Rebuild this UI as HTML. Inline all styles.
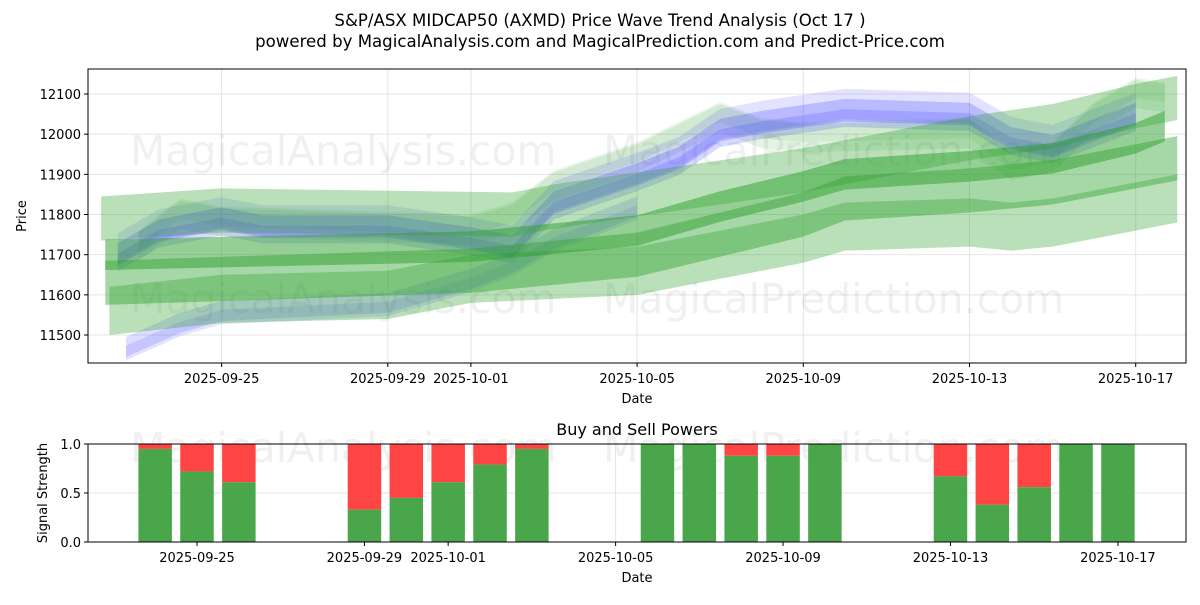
<!DOCTYPE html>
<html><head><meta charset="utf-8"><style>
body{margin:0;background:#fff;}
svg text{font-family:"DejaVu Sans","Liberation Sans",sans-serif;}
</style></head><body>
<svg id="c" width="1200" height="600" xmlns="http://www.w3.org/2000/svg"></svg>
<script>
// ---- data ----
const xTickDays = [0, 4, 6, 10, 14, 18, 22];
const xTickLabels = ["2025-09-25","2025-09-29","2025-10-01","2025-10-05","2025-10-09","2025-10-13","2025-10-17"];
const yTicks = [11500,11600,11700,11800,11900,12000,12100];
const powerDays = [-1,0,1,4,5,6,7,8,11,12,13,14,15,18,19,20,21,22];
const buyPower = [0.95,0.72,0.61,0.33,0.45,0.61,0.79,0.95,1,1,0.88,0.88,1,0.67,0.38,0.56,1,1];
// green bands: days, centers
const gA_days=[-2.8,6,10,12,14,15,18,20,22,22.7];
const gA_c=[11700,11720,11760,11820,11870,11900,11920,11940,11990,12020];
const gB_days=[-2.8,6,10,12,14,15,18,20,22,23];
const gB_c=[11630,11660,11700,11750,11800,11840,11860,11880,11920,11940];
const gC_days=[-2.9,0,7,8,10,14,18,20,22,23];
const gC_c=[11790,11810,11800,11820,11850,11910,11990,12020,12070,12090];
const gD_days=[-2.7,0,4,6,8,10,12,14,15,18,19,20,22,23];
const gD_c=[11560,11590,11600,11640,11650,11660,11700,11740,11770,11780,11770,11780,11820,11840];
const gE_days=[-2,-1,0,6,7,8,10,12,13,14,18,19,20,21,22,22.7];
const gE_c=[11720,11800,11780,11760,11790,11870,11940,12040,12000,11990,12000,11920,11940,12040,12100,12090];
// blue bands
const b1_days=[-2.5,-1.5,0,1,4,6,7,8,10,11,12,13,15,18,19,20,22];
const b1_c=[11700,11760,11790,11770,11770,11740,11720,11830,11900,11940,12010,12030,12060,12050,11990,11970,12050];
const b2_days=[-2.3,-1,0,4,6,7,8,10];
const b2_c=[11470,11530,11560,11580,11640,11680,11740,11820];
// ---- layout ----
const X0=221.6, PXD=41.55;
const xs=d=>X0+d*PXD;
const BX0=197, BPXD=41.86;
const xb=d=>BX0+d*BPXD;
const ys=v=>94+(12100-v)*0.4017;
const T={l:88,r:1186,t:69,b:363}, B={t:444,b:542};
const yb=v=>B.b-(B.b-B.t)*v;
const svg=document.getElementById('c');
const NS='http://www.w3.org/2000/svg';
function el(tag,at,parent){const e=document.createElementNS(NS,tag);for(const k in at)e.setAttribute(k,at[k]);(parent||svg).appendChild(e);return e;}
function txt(s,at,name){const e=el('text',at);e.textContent=s;

return e;}
// titles
txt("S&P/ASX MIDCAP50 (AXMD) Price Wave Trend Analysis (Oct 17 )",{x:600,y:26,'text-anchor':'middle','font-size':16.6},'chart-title');
txt("powered by MagicalAnalysis.com and MagicalPrediction.com and Predict-Price.com",{x:600,y:47,'text-anchor':'middle','font-size':16.6},'chart-subtitle');
// grids top
const gTop=el('g',{});


xTickDays.forEach(d=>el('line',{x1:xs(d),x2:xs(d),y1:T.t,y2:T.b,stroke:'#e4e4e4','stroke-width':1},gTop));
yTicks.forEach(v=>el('line',{x1:T.l,x2:T.r,y1:ys(v),y2:ys(v),stroke:'#e4e4e4','stroke-width':1},gTop));
// watermarks
[["MagicalAnalysis.com",130,165],["MagicalPrediction.com",603,165],["MagicalAnalysis.com",130,313],["MagicalPrediction.com",603,313],["MagicalAnalysis.com",130,462],["MagicalPrediction.com",603,462]].forEach(w=>{
 txt(w[0],{x:w[1],y:w[2],'font-size':41,fill:'#000','fill-opacity':0.06},'watermark');});
// clip
const defs=el('defs',{});
const cp=el('clipPath',{id:'cp'},defs);el('rect',{x:T.l,y:T.t,width:T.r-T.l,height:T.b-T.t},cp);
const plot=el('g',{'clip-path':'url(#cp)'});


function band(days,c,h,color,op,off,name){
 const up=days.map((d,i)=>xs(d)+','+ys(c[i]+h+off));
 const lo=days.map((d,i)=>xs(d)+','+ys(c[i]-h+off)).reverse();
 const p=el('polygon',{points:up.concat(lo).join(' '),fill:color,'fill-opacity':op},plot);
 
 
}
const G='#2ca02c', BL='#4040ff';
band(gE_days,gE_c,35,G,0.12,0,'green-band-e');
band(gE_days,gE_c,25,G,0.1,15,'green-band-e2');
band(b2_days,b2_c,25,BL,0.18,0,'blue-band-low');
band(b2_days,b2_c,18,BL,0.15,-15,'blue-band-low2');
band(b1_days,b1_c,38,BL,0.15,15,'blue-band-1');
band(b1_days,b1_c,28,BL,0.25,0,'blue-band-2');
band(b1_days,b1_c,22,BL,0.2,-20,'blue-band-3');
band(gC_days,gC_c,55,G,0.33,0,'green-band-c');
band(gD_days,gD_c,60,G,0.33,0,'green-band-d');
band(gB_days,gB_c,55,G,0.42,0,'green-band-b');
band(gA_days,gA_c,38,G,0.5,0,'green-band-a');
// axes top
el('rect',{x:T.l,y:T.t,width:T.r-T.l,height:T.b-T.t,fill:'none',stroke:'#000','stroke-width':1});
xTickDays.forEach((d,i)=>{el('line',{x1:xs(d),x2:xs(d),y1:T.b,y2:T.b+4,stroke:'#000'});
 txt(xTickLabels[i],{x:xs(d),y:T.b+20,'text-anchor':'middle','font-size':13},'x-tick-label');});
yTicks.forEach(v=>{el('line',{x1:T.l-4,x2:T.l,y1:ys(v),y2:ys(v),stroke:'#000'});
 txt(String(v),{x:T.l-7,y:ys(v)+5,'text-anchor':'end','font-size':13},'y-tick-label');});
txt("Date",{x:637,y:403,'text-anchor':'middle','font-size':13},'x-axis-title');
txt("Price",{x:26,y:216,'text-anchor':'middle','font-size':13,transform:'rotate(-90 26 216)'},'y-axis-title');
// bottom chart
txt("Buy and Sell Powers",{x:637,y:435,'text-anchor':'middle','font-size':16},'power-title');
[0,0.5,1].forEach(v=>el('line',{x1:T.l,x2:T.r,y1:yb(v),y2:yb(v),stroke:'#e4e4e4'}));
xTickDays.forEach(d=>el('line',{x1:xb(d),x2:xb(d),y1:B.t,y2:B.b,stroke:'#e4e4e4'}));
const bw=BPXD*0.8;
powerDays.forEach((d,i)=>{
 const x=xb(d)-bw/2;
 const r=el('rect',{x:x,y:yb(1),width:bw,height:yb(buyPower[i])-yb(1),fill:'#ff4444'});
 
 
 const g=el('rect',{x:x,y:yb(buyPower[i]),width:bw,height:B.b-yb(buyPower[i]),fill:'#4aa64a'});
 
 
});
el('rect',{x:T.l,y:B.t,width:T.r-T.l,height:B.b-B.t,fill:'none',stroke:'#000'});
xTickDays.forEach((d,i)=>{el('line',{x1:xb(d),x2:xb(d),y1:B.b,y2:B.b+4,stroke:'#000'});
 txt(xTickLabels[i],{x:xb(d),y:B.b+20,'text-anchor':'middle','font-size':13},'power-x-tick-label');});
[["0.0",0],["0.5",0.5],["1.0",1]].forEach(t=>{el('line',{x1:T.l-4,x2:T.l,y1:yb(t[1]),y2:yb(t[1]),stroke:'#000'});
 txt(t[0],{x:T.l-7,y:yb(t[1])+5,'text-anchor':'end','font-size':13},'power-y-tick-label');});
txt("Date",{x:637,y:582,'text-anchor':'middle','font-size':13},'power-x-axis-title');
txt("Signal Strength",{x:47,y:493,'text-anchor':'middle','font-size':13,transform:'rotate(-90 47 493)'},'power-y-axis-title');
</script>
</body></html>
